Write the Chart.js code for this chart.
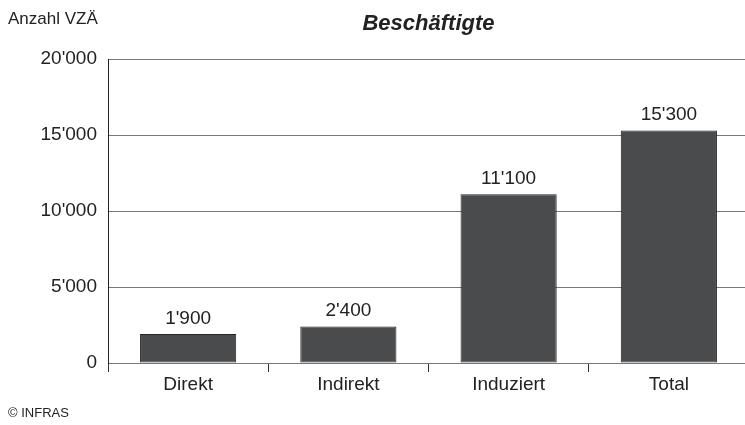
<!DOCTYPE html>
<html>
<head>
<meta charset="utf-8">
<script src="https://cdn.jsdelivr.net/npm/chart.js@4"></script>
<style>
  html, body { margin: 0; padding: 0; background: #fff; overflow: hidden; }
  #wrap { width: 752px; height: 425px; position: relative; }
</style>
</head>
<body>
<div id="wrap"><canvas id="chart"></canvas></div>
<script>
var categories = ['Direkt', 'Indirekt', 'Induziert', 'Total'];
var employees = [1900, 2400, 11100, 15300];
var yTicks = [0, 5000, 10000, 15000, 20000];

var FONT = "'Liberation Sans Narrow', 'Arial Narrow', sans-serif";

// thousands separator with apostrophe, e.g. 15'300
function fmt(v) {
    return String(v).replace(/\B(?=(\d{3})+(?!\d))/g, "'");
}

var textPlugin = {
    id: 'texts',
    afterDatasetsDraw: function (chart) {
        var c = chart.ctx;
        var area = chart.chartArea;
        c.save();
        c.fillStyle = '#222';

        // value labels above bars
        c.font = '19px ' + FONT;
        c.textAlign = 'center';
        c.textBaseline = 'bottom';
        chart.getDatasetMeta(0).data.forEach(function (bar, i) {
            c.fillText(fmt(employees[i]), bar.x, bar.y - 6);
        });

        // title
        c.font = 'italic bold 22px ' + FONT;
        c.textBaseline = 'alphabetic';
        c.fillText('Beschäftigte', (area.left + area.right) / 2, 30);

        // unit label and copyright
        c.textAlign = 'left';
        c.font = '17px ' + FONT;
        c.fillText('Anzahl VZÄ', 8, 24);
        c.font = '13px ' + FONT;
        c.fillText('© INFRAS', 8, 417);
        c.restore();
    }
};

var ctx = document.getElementById('chart');
var chart = new Chart(ctx, {
    type: 'bar',
    data: {
        labels: categories,
        datasets: [{
            data: employees,
            backgroundColor: '#4a4b4d',
            borderColor: '#262626',
            borderWidth: 1,
            borderSkipped: false,
            barPercentage: 0.6,
            categoryPercentage: 1
        }]
    },
    options: {
        responsive: true,
        maintainAspectRatio: false,
        animation: false,
        layout: { padding: { top: 59, right: 3, left: 0, bottom: 0 } },
        plugins: {
            legend: { display: false },
            tooltip: { enabled: false }
        },
        scales: {
            x: {
                offset: true,
                grid: {
                    offset: true,
                    drawOnChartArea: false,
                    drawTicks: true,
                    tickLength: 9,
                    tickColor: '#333',
                    tickWidth: 1
                },
                border: { display: true, color: '#777', width: 1 },
                ticks: {
                    color: '#222',
                    font: { family: FONT, size: 19 },
                    padding: 1,
                    maxRotation: 0
                },
                afterFit: function (scale) { scale.height = 62; }
            },
            y: {
                min: 0,
                max: 20000,
                afterBuildTicks: function (scale) {
                    scale.ticks = yTicks.map(function (v) { return { value: v }; });
                },
                grid: {
                    color: '#777',
                    lineWidth: 1,
                    drawTicks: false
                },
                border: { display: true, color: '#222', width: 1 },
                ticks: {
                    color: '#222',
                    font: { family: FONT, size: 19 },
                    padding: 11,
                    callback: function (v) { return fmt(v); }
                },
                afterFit: function (scale) { scale.width = 108; }
            }
        }
    },
    plugins: [textPlugin]
});
</script>
</body>
</html>
